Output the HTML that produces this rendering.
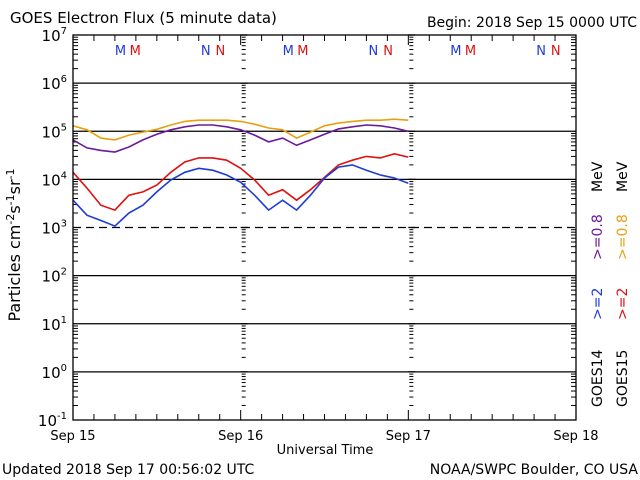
<!DOCTYPE html>
<html><head><meta charset="utf-8"><style>
html,body{margin:0;padding:0;background:#fff;}
svg{display:block;font-family:"DejaVu Sans","Liberation Sans",sans-serif;}
</style></head><body>
<svg id="chart" width="640" height="480" viewBox="0 0 640 480" xmlns="http://www.w3.org/2000/svg">
<rect x="0" y="0" width="640" height="480" fill="#fff"/>
<text x="10" y="23" font-size="15">GOES Electron Flux (5 minute data)</text>
<text x="637" y="27" font-size="14" text-anchor="end">Begin: 2018 Sep 15 0000 UTC</text>
<text x="2" y="474" font-size="14">Updated 2018 Sep 17 00:56:02 UTC</text>
<text x="638" y="474" font-size="14" text-anchor="end">NOAA/SWPC Boulder, CO USA</text>
<text x="325" y="454" font-size="13" text-anchor="middle">Universal Time</text>
<text transform="translate(20,245) rotate(-90)" font-size="16" text-anchor="middle">Particles cm<tspan dy="-6" font-size="11">-2</tspan><tspan dy="6">s</tspan><tspan dy="-6" font-size="11">-1</tspan><tspan dy="6">sr</tspan><tspan dy="-6" font-size="11">-1</tspan></text>
<g id="grid"></g>
<g id="ticks" stroke="#000" stroke-width="1"></g>
<g id="series" fill="none" stroke-width="1.6"></g>
<g id="labels" font-size="14"></g>
<rect x="73" y="35" width="503" height="385" fill="none" stroke="#000" stroke-width="1.3"/>
<g font-size="14">
<text transform="translate(602,407) rotate(-90)" fill="#000">GOES14</text>
<text transform="translate(602,320) rotate(-90)" fill="#1f3bd6">&gt;=2</text>
<text transform="translate(602,260) rotate(-90)" fill="#6a1a9a">&gt;=0.8</text>
<text transform="translate(602,192) rotate(-90)" fill="#000">MeV</text>
<text transform="translate(627,407) rotate(-90)" fill="#000">GOES15</text>
<text transform="translate(627,320) rotate(-90)" fill="#e01010">&gt;=2</text>
<text transform="translate(627,260) rotate(-90)" fill="#e8a010">&gt;=0.8</text>
<text transform="translate(627,192) rotate(-90)" fill="#000">MeV</text>
</g>
</svg>
<script>
const hours = [0,2,4,6,8,10,12,14,16,18,20,22,24,26,28,30,32,34,36,38,40,42,44,46,48];
const goes15Low = [1.3e5,1.07e5,7.2e4,6.6e4,8.3e4,9.6e4,1.1e5,1.35e5,1.6e5,1.7e5,1.7e5,1.7e5,1.6e5,1.4e5,1.17e5,1.07e5,7.2e4,9.6e4,1.3e5,1.48e5,1.6e5,1.7e5,1.7e5,1.78e5,1.7e5];
const goes14Low = [6.6e4,4.5e4,4.0e4,3.7e4,4.7e4,6.6e4,8.7e4,1.07e5,1.24e5,1.35e5,1.35e5,1.24e5,1.07e5,8.3e4,6.0e4,7.2e4,5.1e4,6.6e4,8.7e4,1.12e5,1.24e5,1.35e5,1.3e5,1.17e5,1.0e5];
const goes15High = [1.4e4,6.6e3,2.9e3,2.3e3,4.7e3,5.5e3,7.6e3,1.4e4,2.3e4,2.8e4,2.8e4,2.5e4,1.7e4,9.7e3,4.7e3,6.1e3,3.7e3,6.1e3,1.1e4,2.0e4,2.5e4,3.0e4,2.8e4,3.4e4,2.9e4];
const goes14High = [3.7e3,1.8e3,1.4e3,1.07e3,2.0e3,2.9e3,5.5e3,9.7e3,1.4e4,1.7e4,1.55e4,1.23e4,8.7e3,4.7e3,2.3e3,3.7e3,2.3e3,4.7e3,1.07e4,1.8e4,2.0e4,1.55e4,1.23e4,1.07e4,8.3e3];
const yTickExps = [7,6,5,4,3,2,1,0,-1];
const dayLabels = ["Sep 15","Sep 16","Sep 17","Sep 18"];

const NS="http://www.w3.org/2000/svg";
const X0=73,X1=576,Y0=35,Y1=420;
const xs=h=>X0+(X1-X0)*h/72;
const ys=v=>Y0+(7-Math.log10(v))*(Y1-Y0)/8;
function mk(tag,attrs,parent){const e=document.createElementNS(NS,tag);for(const k in attrs)e.setAttribute(k,attrs[k]);parent.appendChild(e);return e;}
const grid=document.getElementById('grid'),ticks=document.getElementById('ticks'),series=document.getElementById('series'),labels=document.getElementById('labels');

yTickExps.forEach(e=>{
  const y=ys(Math.pow(10,e));
  if(e<7&&e>-1){
    const l=mk('line',{x1:X0,x2:X1,y1:y,y2:y,stroke:'#000','stroke-width':1.3},grid);
    if(e===3)l.setAttribute('stroke-dasharray','8,5');
    
    
  }
  const t=mk('text',{x:X0-6,y:y+6,'font-size':15,'text-anchor':'end'},labels);
  t.innerHTML='10<tspan dy="-7" font-size="10">'+e+'</tspan>';
  
  
  if(e>-1){
    for(let m=2;m<=9;m++){
      const yy=ys(Math.pow(10,e-1)*m);
      [[X0,X0+5],[X1-5,X1],[xs(24)+1,xs(24)+5],[xs(48)+1,xs(48)+5]].forEach(p=>{
        const tk=mk('line',{x1:p[0],x2:p[1],y1:yy,y2:yy},ticks);
        
        
      });
    }
    [[xs(24),xs(24)+7],[xs(48),xs(48)+7]].forEach(p=>{
      const tk=mk('line',{x1:p[0],x2:p[1],y1:y,y2:y,'stroke-width':1.3},ticks);
      
      
    });
  }
});
for(let h=3;h<72;h+=3){
  const x=xs(h),len=(h%24===0)?10:6;
  const a=mk('line',{x1:x,x2:x,y1:Y1,y2:Y1-len},ticks);
  
  
  const b=mk('line',{x1:x,x2:x,y1:Y0,y2:Y0+len},ticks);
  
  
}
dayLabels.forEach((d,i)=>{
  const t=mk('text',{x:xs(24*i),y:440,'font-size':13,'text-anchor':'middle'},labels);
  t.textContent=d;
  
  
});
const markers=[["M",6.8],["N",19]];
for(let d=0;d<3;d++){
  markers.forEach(m=>{
    const h=24*d+m[1];
    const a=mk('text',{x:xs(h),y:55,fill:'#1f3bd6','font-size':13,'text-anchor':'middle'},labels);
    a.textContent=m[0];
    
    
    const b=mk('text',{x:xs(h+2.1),y:55,fill:'#e01010','font-size':13,'text-anchor':'middle'},labels);
    b.textContent=m[0];
    
    
  });
}
function line(vals,color,name){
  const d=vals.map((v,i)=>(i?'L':'M')+xs(hours[i]).toFixed(1)+','+ys(v).toFixed(1)).join(' ');
  const p=mk('path',{d:d,stroke:color},series);
  
  
}
line(goes15Low,'#e8a010','goes15-0.8mev-line');
line(goes14Low,'#6a1a9a','goes14-0.8mev-line');
line(goes15High,'#e01010','goes15-2mev-line');
line(goes14High,'#1f3bd6','goes14-2mev-line');
</script>
</body></html>
